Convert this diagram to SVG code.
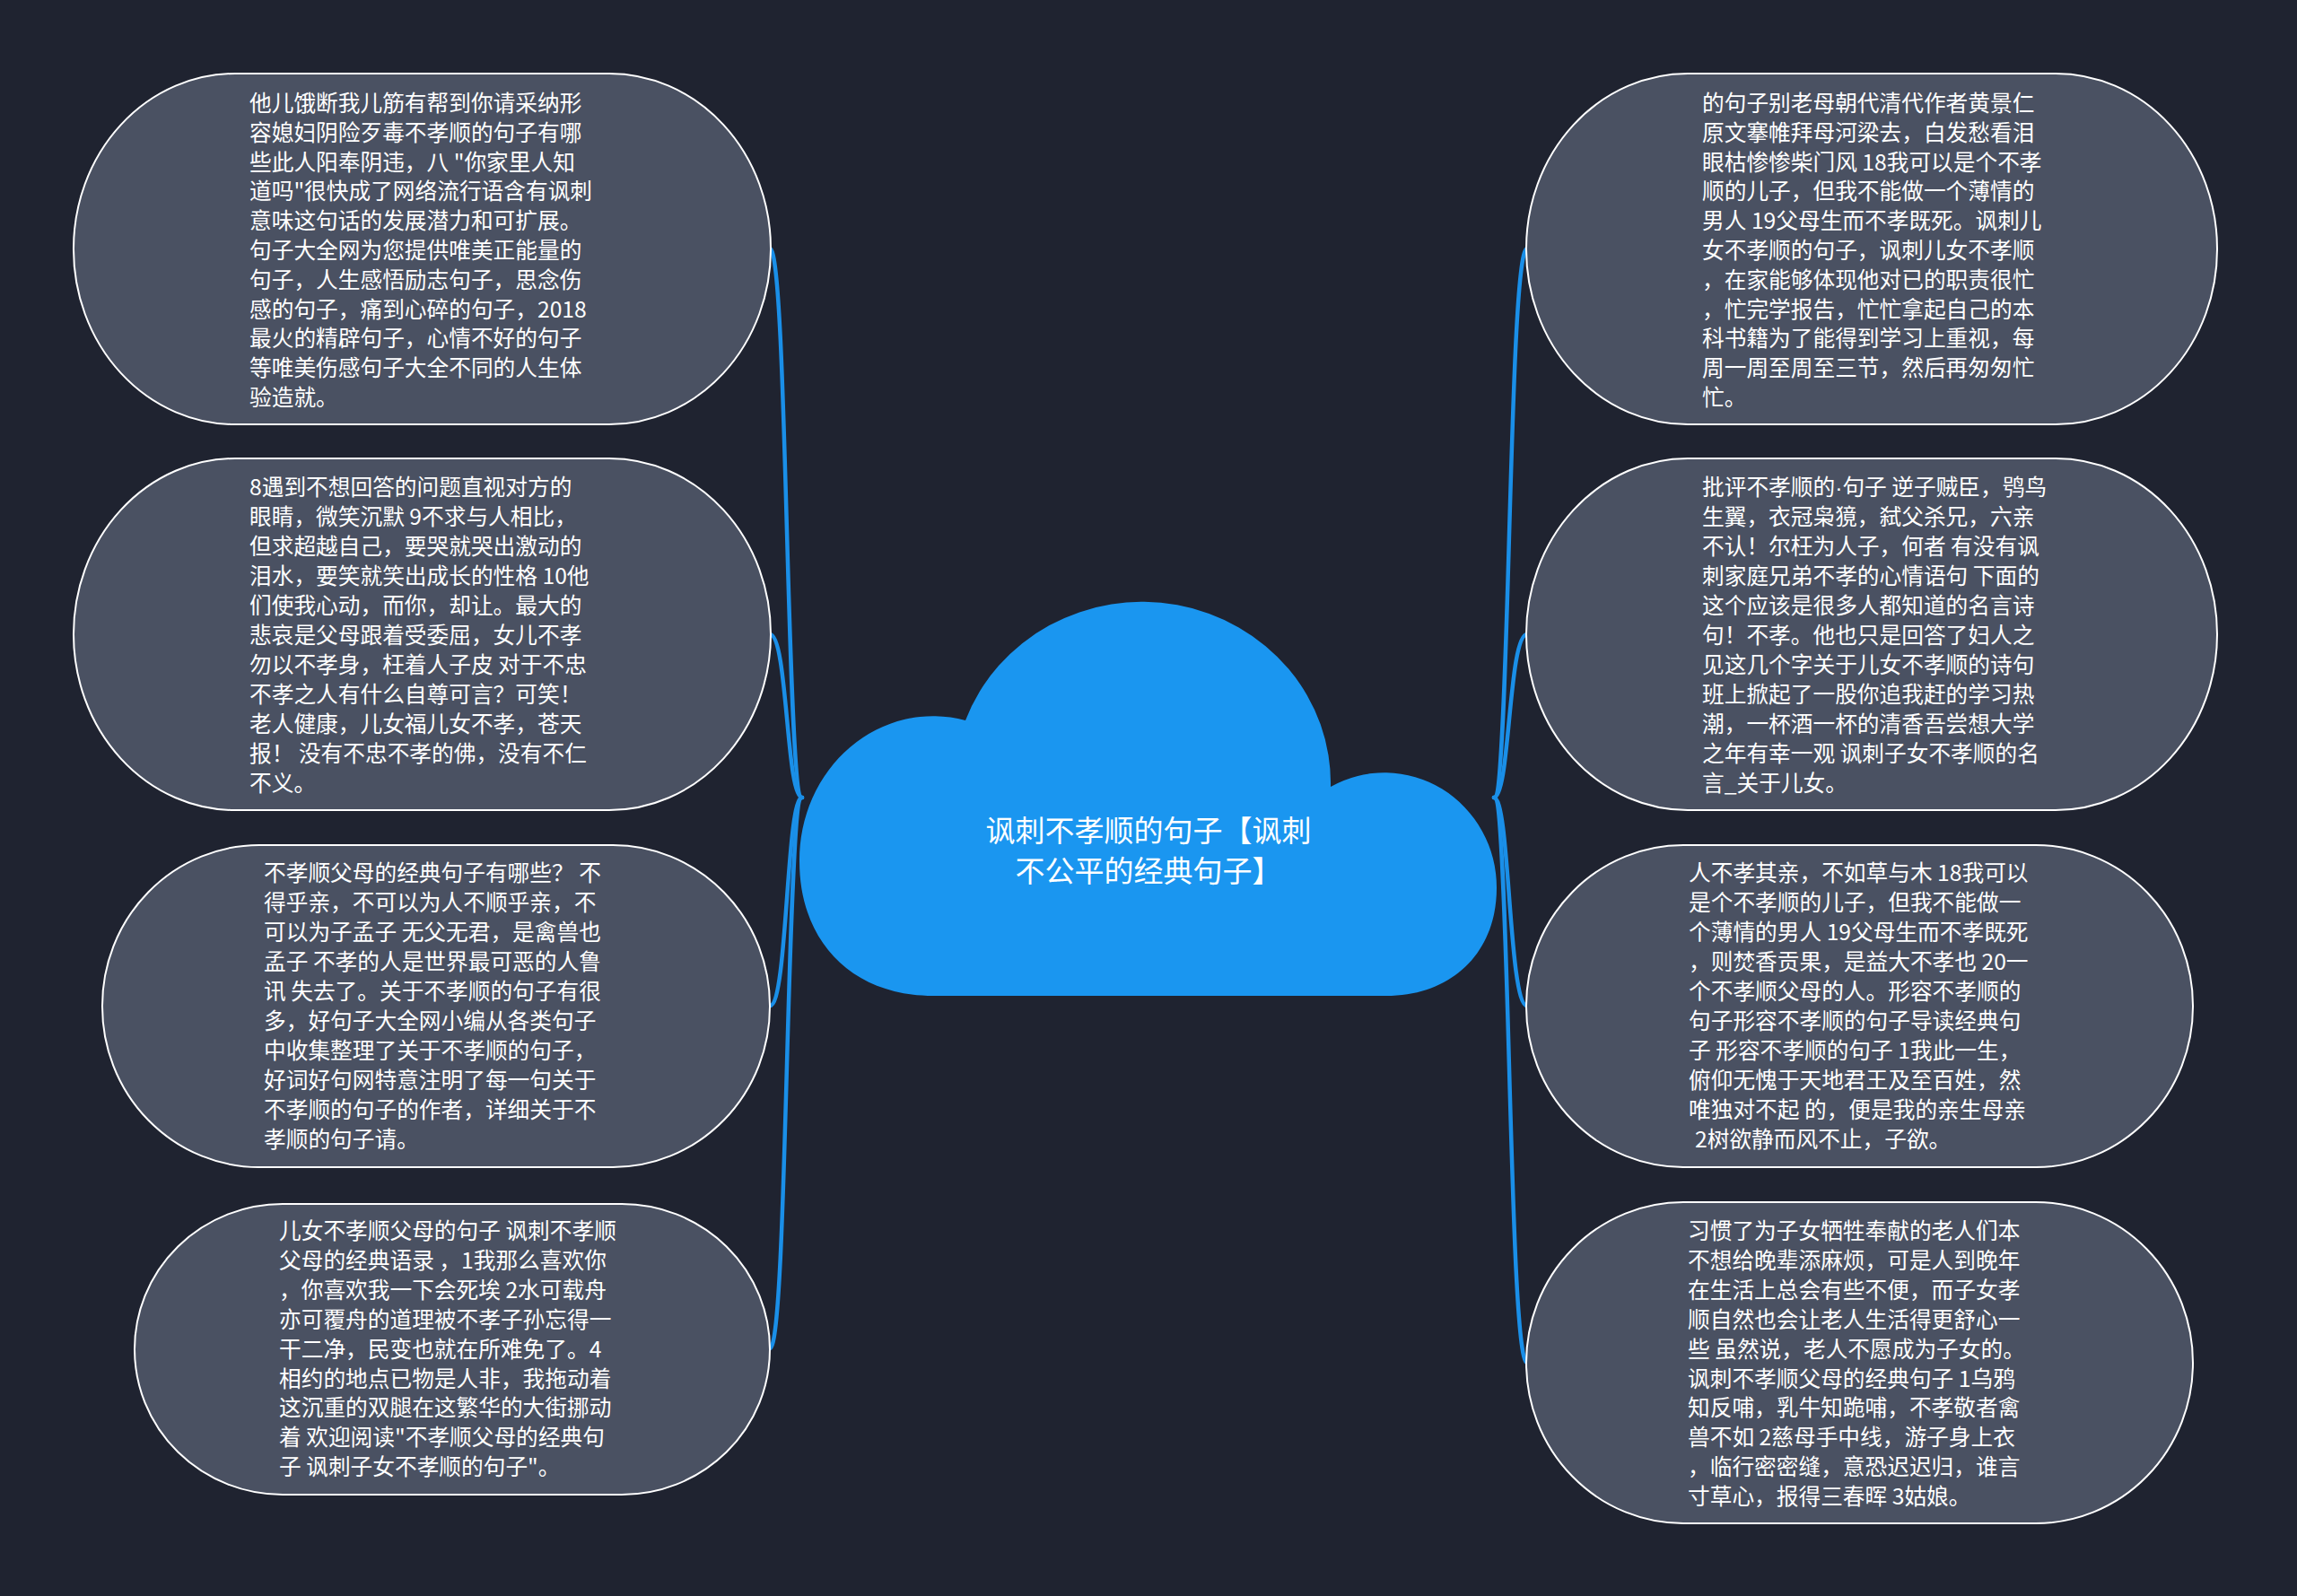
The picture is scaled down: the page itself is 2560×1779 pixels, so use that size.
<svg xmlns="http://www.w3.org/2000/svg" width="2560" height="1779" viewBox="0 0 2560 1779">
<style>
.bg{fill:#1f2330}
.node{fill:#4a5162;stroke:#ffffff;stroke-width:2}
.t{font-family:"Noto Sans CJK SC","Noto Sans",sans-serif;font-size:24.7px;fill:#ffffff}
.ct{font-family:"Noto Sans CJK SC","Noto Sans",sans-serif;font-size:33px;fill:#ffffff;text-anchor:middle}
.edge{fill:none;stroke:#1a8fe8;stroke-width:4.5;stroke-linecap:round}
.lat{font-family:"Liberation Sans",sans-serif}
</style>
<rect class="bg" x="0" y="0" width="2560" height="1779"/>
<g id="connectors">
<path class="edge" d="M894 889 C876 889 878 277 858 277"/>
<path class="edge" d="M894 889 C876 889 878 707 858 707"/>
<path class="edge" d="M894 889 C876 889 878 1121 858 1121"/>
<path class="edge" d="M894 889 C876 889 878 1503 858 1503"/>
<path class="edge" d="M1665 889 C1683 889 1681 277 1702 277"/>
<path class="edge" d="M1665 889 C1683 889 1681 707 1702 707"/>
<path class="edge" d="M1665 889 C1683 889 1681 1121 1702 1121"/>
<path class="edge" d="M1665 889 C1683 889 1681 1519 1702 1519"/>
</g>
<g id="center">
<path d="M1040 1110 C950 1110 891 1050 891 960 A149 160 0 0 1 1076 803 A210 202 0 0 1 1483 877 A125 128 0 0 1 1668 990 C1668 1060 1620 1110 1545 1110 Z" fill="#1a96f0"/>
<text class="ct"><tspan x="1280" y="938">讽刺不孝顺的句子【讽刺</tspan><tspan x="1280" y="983">不公平的经典句子】</tspan></text>
</g>
<g id="node-l1">
<rect class="node" x="82" y="82" width="777" height="391" rx="180" ry="195"/>
<text class="t"><tspan x="278" y="124">他儿饿断我儿筋有帮到你请采纳形</tspan><tspan x="278" dy="32.8">容媳妇阴险歹毒不孝顺的句子有哪</tspan><tspan x="278" dy="32.8">些此人阳奉阴违，八 "你家里人知</tspan><tspan x="278" dy="32.8">道吗"很快成了网络流行语含有讽刺</tspan><tspan x="278" dy="32.8">意味这句话的发展潜力和可扩展。</tspan><tspan x="278" dy="32.8">句子大全网为您提供唯美正能量的</tspan><tspan x="278" dy="32.8">句子，人生感悟励志句子，思念伤</tspan><tspan x="278" dy="32.8">感的句子，痛到心碎的句子，2018</tspan><tspan x="278" dy="32.8">最火的精辟句子，心情不好的句子</tspan><tspan x="278" dy="32.8">等唯美伤感句子大全不同的人生体</tspan><tspan x="278" dy="32.8">验造就。</tspan></text>
</g>
<g id="node-l2">
<rect class="node" x="82" y="511" width="777" height="392" rx="180" ry="196"/>
<text class="t"><tspan x="278" y="552">8遇到不想回答的问题直视对方的</tspan><tspan x="278" dy="33">眼睛，微笑沉默 9不求与人相比，</tspan><tspan x="278" dy="33">但求超越自己，要哭就哭出激动的</tspan><tspan x="278" dy="33">泪水，要笑就笑出成长的性格 10他</tspan><tspan x="278" dy="33">们使我心动，而你，却让。最大的</tspan><tspan x="278" dy="33">悲哀是父母跟着受委屈，女儿不孝</tspan><tspan x="278" dy="33">勿以不孝身，枉着人子皮 对于不忠</tspan><tspan x="278" dy="33">不孝之人有什么自尊可言？可笑！</tspan><tspan x="278" dy="33">老人健康，儿女福儿女不孝，苍天</tspan><tspan x="278" dy="33">报！ 没有不忠不孝的佛，没有不仁</tspan><tspan x="278" dy="33">不义。</tspan></text>
</g>
<g id="node-l3">
<rect class="node" x="114" y="942" width="744" height="359" rx="175" ry="179"/>
<text class="t"><tspan x="294" y="982">不孝顺父母的经典句子有哪些？ 不</tspan><tspan x="294" dy="33">得乎亲，不可以为人不顺乎亲，不</tspan><tspan x="294" dy="33">可以为子孟子 无父无君，是禽兽也</tspan><tspan x="294" dy="33">孟子 不孝的人是世界最可恶的人鲁</tspan><tspan x="294" dy="33">讯 失去了。关于不孝顺的句子有很</tspan><tspan x="294" dy="33">多，好句子大全网小编从各类句子</tspan><tspan x="294" dy="33">中收集整理了关于不孝顺的句子，</tspan><tspan x="294" dy="33">好词好句网特意注明了每一句关于</tspan><tspan x="294" dy="33">不孝顺的句子的作者，详细关于不</tspan><tspan x="294" dy="33">孝顺的句子请。</tspan></text>
</g>
<g id="node-l4">
<rect class="node" x="150" y="1342" width="708" height="324" rx="165" ry="162"/>
<text class="t"><tspan x="311" y="1381">儿女不孝顺父母的句子 讽刺不孝顺</tspan><tspan x="311" dy="32.9">父母的经典语录 ，1我那么喜欢你</tspan><tspan x="311" dy="32.9">，你喜欢我一下会死埃 2水可载舟</tspan><tspan x="311" dy="32.9">亦可覆舟的道理被不孝子孙忘得一</tspan><tspan x="311" dy="32.9">干二净，民变也就在所难免了。4</tspan><tspan x="311" dy="32.9">相约的地点已物是人非，我拖动着</tspan><tspan x="311" dy="32.9">这沉重的双腿在这繁华的大街挪动</tspan><tspan x="311" dy="32.9">着 欢迎阅读"不孝顺父母的经典句</tspan><tspan x="311" dy="32.9">子 讽刺子女不孝顺的句子"。</tspan></text>
</g>
<g id="node-r1">
<rect class="node" x="1701" y="82" width="770" height="391" rx="180" ry="195"/>
<text class="t"><tspan x="1897" y="124">的句子别老母朝代清代作者黄景仁</tspan><tspan x="1897" dy="32.8">原文搴帷拜母河梁去，白发愁看泪</tspan><tspan x="1897" dy="32.8">眼枯惨惨柴门风 18我可以是个不孝</tspan><tspan x="1897" dy="32.8">顺的儿子，但我不能做一个薄情的</tspan><tspan x="1897" dy="32.8">男人 19父母生而不孝既死。讽刺儿</tspan><tspan x="1897" dy="32.8">女不孝顺的句子，讽刺儿女不孝顺</tspan><tspan x="1897" dy="32.8">，在家能够体现他对已的职责很忙</tspan><tspan x="1897" dy="32.8">，忙完学报告，忙忙拿起自己的本</tspan><tspan x="1897" dy="32.8">科书籍为了能得到学习上重视，每</tspan><tspan x="1897" dy="32.8">周一周至周至三节，然后再匆匆忙</tspan><tspan x="1897" dy="32.8">忙。</tspan></text>
</g>
<g id="node-r2">
<rect class="node" x="1701" y="511" width="770" height="392" rx="180" ry="196"/>
<text class="t"><tspan x="1897" y="552">批评不孝顺的<tspan class="lat">·</tspan>句子 逆子贼臣，鸮鸟</tspan><tspan x="1897" dy="33">生翼，衣冠枭獍，弑父杀兄，六亲</tspan><tspan x="1897" dy="33">不认！尔枉为人子，何者 有没有讽</tspan><tspan x="1897" dy="33">刺家庭兄弟不孝的心情语句 下面的</tspan><tspan x="1897" dy="33">这个应该是很多人都知道的名言诗</tspan><tspan x="1897" dy="33">句！不孝。他也只是回答了妇人之</tspan><tspan x="1897" dy="33">见这几个字关于儿女不孝顺的诗句</tspan><tspan x="1897" dy="33">班上掀起了一股你追我赶的学习热</tspan><tspan x="1897" dy="33">潮，一杯酒一杯的清香吾尝想大学</tspan><tspan x="1897" dy="33">之年有幸一观 讽刺子女不孝顺的名</tspan><tspan x="1897" dy="33">言_关于儿女。</tspan></text>
</g>
<g id="node-r3">
<rect class="node" x="1701" y="942" width="743" height="359" rx="175" ry="179"/>
<text class="t"><tspan x="1882" y="982">人不孝其亲，不如草与木 18我可以</tspan><tspan x="1882" dy="33">是个不孝顺的儿子，但我不能做一</tspan><tspan x="1882" dy="33">个薄情的男人 19父母生而不孝既死</tspan><tspan x="1882" dy="33">，则焚香贡果，是益大不孝也 20一</tspan><tspan x="1882" dy="33">个不孝顺父母的人。形容不孝顺的</tspan><tspan x="1882" dy="33">句子形容不孝顺的句子导读经典句</tspan><tspan x="1882" dy="33">子 形容不孝顺的句子 1我此一生，</tspan><tspan x="1882" dy="33">俯仰无愧于天地君王及至百姓，然</tspan><tspan x="1882" dy="33">唯独对不起 的，便是我的亲生母亲</tspan><tspan x="1889" dy="33">2树欲静而风不止，子欲。</tspan></text>
</g>
<g id="node-r4">
<rect class="node" x="1701" y="1340" width="743" height="358" rx="175" ry="179"/>
<text class="t"><tspan x="1881" y="1381">习惯了为子女牺牲奉献的老人们本</tspan><tspan x="1881" dy="32.9">不想给晚辈添麻烦，可是人到晚年</tspan><tspan x="1881" dy="32.9">在生活上总会有些不便，而子女孝</tspan><tspan x="1881" dy="32.9">顺自然也会让老人生活得更舒心一</tspan><tspan x="1881" dy="32.9">些 虽然说，老人不愿成为子女的。</tspan><tspan x="1881" dy="32.9">讽刺不孝顺父母的经典句子 1乌鸦</tspan><tspan x="1881" dy="32.9">知反哺，乳牛知跪哺，不孝敬者禽</tspan><tspan x="1881" dy="32.9">兽不如 2慈母手中线，游子身上衣</tspan><tspan x="1881" dy="32.9">，临行密密缝，意恐迟迟归，谁言</tspan><tspan x="1881" dy="32.9">寸草心，报得三春晖 3姑娘。</tspan></text>
</g>
</svg>
